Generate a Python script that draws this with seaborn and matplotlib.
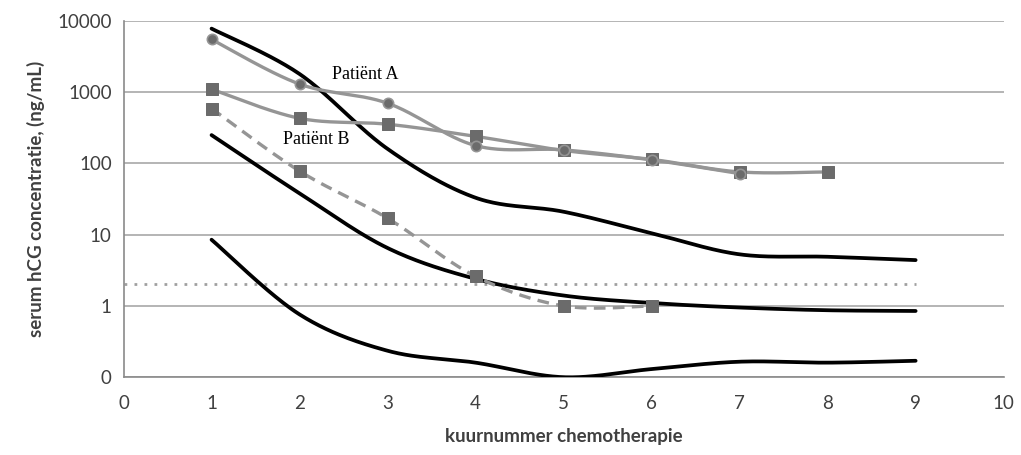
import numpy as np
import pandas as pd
import seaborn as sns
import matplotlib.pyplot as plt
from matplotlib.ticker import FixedLocator, NullLocator, FixedFormatter

# values (log scale, "0" on the axis stands for 0.1)
kuur = [1, 2, 3, 4, 5, 6, 7, 8, 9]
ref_hoog = [7800, 1800, 160, 33, 21, 10.5, 5.3, 4.9, 4.4]
ref_midden = [250, 38, 6.5, 2.4, 1.4, 1.1, 0.95, 0.87, 0.85]
ref_laag = [8.5, 0.76, 0.235, 0.16, 0.1, 0.13, 0.165, 0.16, 0.17]

kuur_a = [1, 2, 3, 4, 5, 6, 7]
patient_a = [5500, 1300, 700, 178, 155, 112, 72]
kuur_b = [1, 2, 3, 4, 5, 6, 7, 8]
patient_b = [1100, 430, 355, 240, 152, 114, 76, 76]
kuur_b2 = [1, 2, 3, 4, 5, 6]
patient_b2 = [590, 78, 17, 2.6, 1.0, 1.0]
grens_x = [0, 9]
grens = [2, 2]

ytick_vals = [0.1, 1, 10, 100, 1000, 10000]
ytick_labels = ["0", "1", "10", "100", "1000", "10000"]
xtick_vals = list(range(0, 11))


def smooth(x, y, n=40):
    # Excel-style smoothed line (Catmull-Rom in log space)
    x = np.asarray(x, float)
    ly = np.log10(np.asarray(y, float))
    px = np.r_[x[0], x, x[-1]]
    py = np.r_[ly[0], ly, ly[-1]]
    xs, ys = [], []
    t = np.linspace(0, 1, n, endpoint=False)
    for i in range(1, len(px) - 2):
        for p, out in ((px, xs), (py, ys)):
            p0, p1, p2, p3 = p[i - 1], p[i], p[i + 1], p[i + 2]
            c1 = p1 + (p2 - p0) / 6
            c2 = p2 - (p3 - p1) / 6
            out.extend((1 - t) ** 3 * p1 + 3 * (1 - t) ** 2 * t * c1
                       + 3 * (1 - t) * t ** 2 * c2 + t ** 3 * p2)
    xs.append(x[-1])
    ys.append(ly[-1])
    return np.array(xs), 10 ** np.array(ys)


sns.set_style("white")
plt.rcParams["font.family"] = ["Lato", "DejaVu Sans"]

fig = plt.figure(figsize=(10.21, 4.55), dpi=100)
ax = fig.add_axes([0.121, 0.171, 0.862, 0.783])
ax.set_yscale("log")

grijs_lijn = "#959595"
grijs_mark = "#6b6b6b"

for yv in [ref_hoog, ref_midden, ref_laag]:
    sx, sy = smooth(kuur, yv)
    sns.lineplot(x=sx, y=sy, sort=False, estimator=None, ax=ax,
                 color="black", lw=2.7, zorder=3)

sns.lineplot(x=grens_x, y=grens, sort=False, estimator=None, ax=ax,
             color="#a0a0a0", lw=2.0, linestyle=(0, (1, 2.6)), zorder=2)

sx, sy = smooth(kuur_b2, patient_b2)
sns.lineplot(x=sx, y=sy, sort=False, estimator=None, ax=ax,
             color=grijs_lijn, lw=2.4, linestyle=(0, (3.5, 2.2)), zorder=4)
sns.scatterplot(x=kuur_b2, y=patient_b2, ax=ax, marker="s", s=80,
                color=grijs_mark, edgecolor=grijs_mark, zorder=5)

sx, sy = smooth(kuur_b, patient_b)
sns.lineplot(x=sx, y=sy, sort=False, estimator=None, ax=ax,
             color=grijs_lijn, lw=2.4, zorder=4)
sns.scatterplot(x=kuur_b, y=patient_b, ax=ax, marker="s", s=80,
                color=grijs_mark, edgecolor=grijs_mark, zorder=5)

sx, sy = smooth(kuur_a, patient_a)
sns.lineplot(x=sx, y=sy, sort=False, estimator=None, ax=ax,
             color=grijs_lijn, lw=2.4, zorder=6)
sns.scatterplot(x=kuur_a, y=patient_a, ax=ax, marker="o", s=55,
                color=grijs_mark, edgecolor=grijs_lijn, linewidth=1.2, zorder=7)

ax.text(2.37, 1780, "Patiënt A", family=["Liberation Serif"], fontsize=13,
        va="center", ha="left", color="black")
ax.text(1.81, 220, "Patiënt B", family=["Liberation Serif"], fontsize=13,
        va="center", ha="left", color="black")

ax.set_xlim(0, 10)
ax.set_ylim(0.1, 10000)
ax.xaxis.set_major_locator(FixedLocator(xtick_vals))
ax.yaxis.set_major_locator(FixedLocator(ytick_vals))
ax.yaxis.set_major_formatter(FixedFormatter(ytick_labels))
ax.yaxis.set_minor_locator(NullLocator())
ax.yaxis.grid(True, color="#a8a8a8", lw=1.2)
ax.xaxis.grid(False)
ax.set_axisbelow(True)

for side in ["top", "right"]:
    ax.spines[side].set_visible(False)
for side in ["left", "bottom"]:
    ax.spines[side].set_color("#8a8a8a")
    ax.spines[side].set_linewidth(1.2)

ax.tick_params(axis="both", which="major", direction="out", length=5,
               width=1.2, color="#8a8a8a", labelsize=13.5, labelcolor="#404040")
ax.tick_params(axis="x", pad=8)

ax.set_xlabel("kuurnummer chemotherapie", fontsize=13.5, fontweight="bold",
              color="#404040", labelpad=11)
ax.set_ylabel("serum hCG concentratie, (ng/mL)", fontsize=13.5, fontweight="bold",
              color="#404040", labelpad=9)

fig.savefig("out.png", dpi=100)
